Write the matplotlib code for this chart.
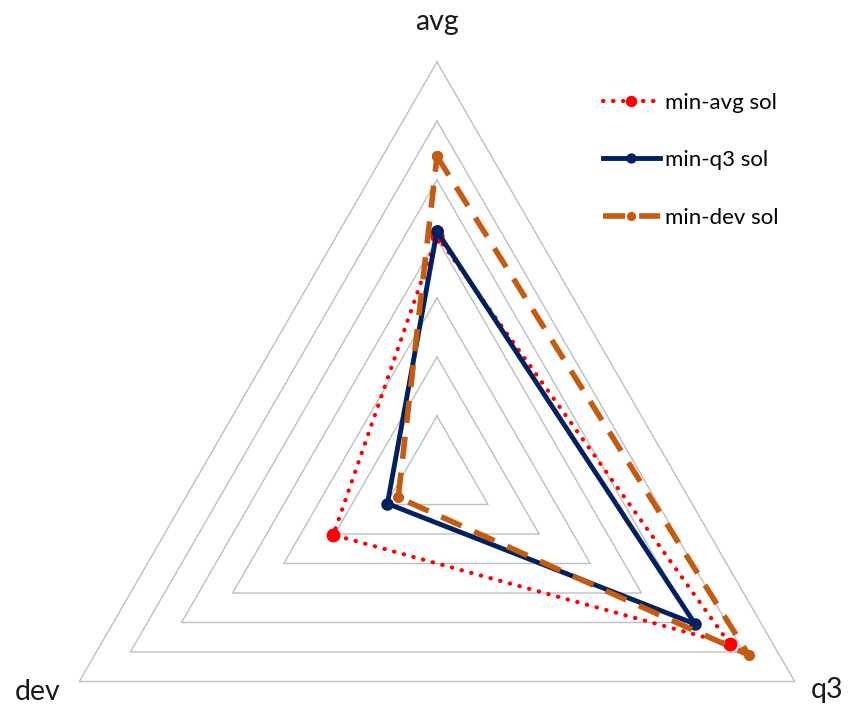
import numpy as np
import matplotlib.pyplot as plt

# radar chart: three criteria, three solutions
categories = ['avg', 'q3', 'dev']
angles_deg = [90, -30, 210]

min_avg = [4.05, 5.73, 2.03]
min_q3 = [4.13, 5.05, 0.97]
min_dev = [5.40, 6.10, 0.76]

series_names = ['min-avg sol', 'min-q3 sol', 'min-dev sol']
levels = [1, 2, 3, 4, 5, 6, 7]

plt.rcParams['font.family'] = ['Lato', 'DejaVu Sans']

fig = plt.figure(figsize=(8.53, 7.08), dpi=100)
# centre of the radar at (437, 475) px, outer radius 413 px
cx, cy, R = 437, 475, 413
W, H = 853, 708
ax = fig.add_axes([(cx - R) / W, (H - cy - R) / H, 2 * R / W, 2 * R / H],
                  projection='polar')
ax.set_ylim(0, 7)
ax.set_xticks([])
ax.set_yticks([])
ax.grid(False)
ax.spines['polar'].set_visible(False)
ax.patch.set_visible(False)

theta = np.deg2rad(angles_deg)
theta_closed = np.append(theta, theta[0])

# triangular gridlines
for lv in levels:
    ax.plot(theta_closed, [lv] * 4, color='#BFBFBF', lw=1.0, zorder=1,
            clip_on=False)


def closed(vals):
    return np.append(vals, vals[0])


ax.plot(theta_closed, closed(min_avg), color='#FF0000', lw=3,
        linestyle=(0, (0.1, 2.3)), dash_capstyle='round', marker='o',
        markersize=9, label=series_names[0], zorder=3, clip_on=False)
ax.plot(theta_closed, closed(min_q3), color='#002060', lw=3.5,
        marker='o', markersize=8, label=series_names[1], zorder=4,
        clip_on=False)
ax.plot(theta_closed, closed(min_dev), color='#C55A11', lw=4,
        linestyle=(0, (4, 2.5)), marker='o', markersize=7,
        label=series_names[2], zorder=5, clip_on=False)

# category labels (angle, radius tuned to sit like the original)
label_pos = {'avg': (90, 7.68), 'q3': (-28.8, 7.55), 'dev': (208.5, 7.7)}
for lab in categories:
    a, r = label_pos[lab]
    ax.text(np.deg2rad(a), r, lab, ha='center', va='center', fontsize=20.5,
            color='#1a1a1a', clip_on=False)

leg = fig.legend(loc='upper left', bbox_to_anchor=(0.683, 0.897),
                 frameon=False, fontsize=16, handlelength=2.6,
                 labelspacing=1.68, handletextpad=0.2, markerscale=0.8)

fig.savefig('out.png', dpi=100)
